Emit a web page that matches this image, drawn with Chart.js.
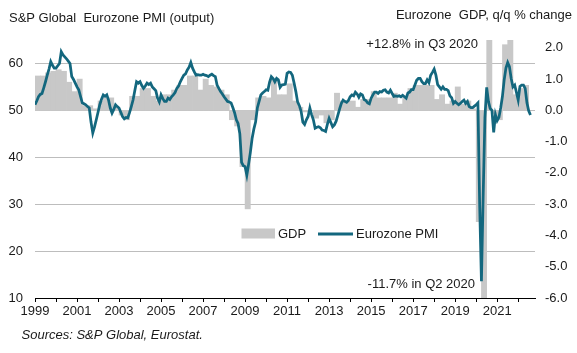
<!DOCTYPE html>
<html>
<head>
<meta charset="utf-8">
<script src="https://cdn.jsdelivr.net/npm/chart.js@4.4.0/dist/chart.umd.min.js"></script>
<style>
  body { margin: 0; background: #fff; }
  #wrap { width: 577px; height: 353px; }
</style>
</head>
<body>
<div id="wrap"><canvas id="chart"></canvas></div>
<script>
// Eurozone PMI output, monthly from Jan 1999
const pmiStartYear = 1999;
const pmiMonthly = [
  51.2, 52.0, 52.9, 53.4, 53.6, 54.8, 56.1, 57.5, 58.8, 60.4, 59.6, 59.0, // 1999
  59.0, 59.5, 60.0, 62.5, 61.8, 61.4, 61.0, 60.5, 60.0, 57.2, 56.6, 55.8, // 2000
  55.0, 54.4, 53.0, 51.6, 51.4, 51.2, 50.8, 50.5, 47.5, 45.2, 46.5, 48.0, // 2001
  49.6, 51.2, 52.4, 53.3, 53.0, 53.3, 52.2, 50.5, 49.4, 50.2, 51.2, 50.8, // 2002
  50.5, 49.6, 48.7, 48.2, 48.5, 48.4, 49.5, 50.8, 52.2, 54.2, 56.1, 55.8, // 2003
  56.1, 55.3, 54.7, 55.2, 55.8, 55.5, 55.8, 55.0, 54.6, 54.2, 52.6, 51.8, // 2004
  53.3, 52.5, 51.9, 51.9, 52.6, 52.3, 52.9, 53.3, 53.8, 54.7, 55.2, 56.1, // 2005
  56.8, 57.5, 57.8, 58.6, 59.2, 60.2, 59.0, 58.2, 57.5, 57.6, 57.5, 57.5, // 2006
  57.7, 57.5, 57.4, 57.2, 57.5, 57.7, 57.4, 57.2, 55.4, 54.7, 54.0, 53.5, // 2007
  52.9, 52.4, 51.9, 51.8, 51.6, 50.6, 49.5, 48.0, 47.2, 45.0, 38.9, 38.2, // 2008
  38.0, 36.2, 38.5, 41.0, 44.0, 46.0, 47.5, 50.5, 51.9, 53.3, 53.7, 54.0, // 2009
  54.4, 54.3, 56.0, 57.2, 56.8, 56.1, 56.8, 56.5, 54.9, 55.4, 55.5, 55.6, // 2010
  57.9, 58.2, 58.1, 57.5, 55.8, 54.0, 51.8, 51.0, 49.8, 47.5, 47.0, 48.0, // 2011
  48.7, 50.5, 49.1, 48.0, 46.2, 46.4, 46.5, 46.3, 45.8, 45.7, 45.5, 47.0, // 2012
  48.3, 47.4, 46.5, 46.9, 47.7, 49.0, 50.3, 51.5, 52.2, 51.9, 51.7, 52.1, // 2013
  52.9, 53.3, 53.1, 53.9, 53.5, 52.8, 53.5, 53.3, 52.3, 52.1, 51.6, 51.4, // 2014
  52.6, 53.3, 53.9, 53.9, 53.6, 54.0, 53.9, 54.3, 54.4, 53.9, 53.7, 54.3, // 2015
  53.6, 53.0, 53.1, 53.0, 53.1, 52.9, 53.2, 52.9, 52.6, 53.7, 53.9, 54.4, // 2016
  54.4, 55.4, 56.4, 56.8, 56.8, 56.1, 55.7, 55.7, 56.5, 55.9, 57.5, 58.1, // 2017
  58.8, 57.5, 55.5, 55.0, 54.5, 55.0, 54.5, 54.5, 54.2, 53.1, 52.7, 51.5, // 2018
  51.9, 51.5, 51.2, 51.5, 51.9, 52.2, 51.5, 51.9, 50.8, 50.6, 50.6, 50.9, // 2019
  51.2, 51.6, 29.7, 13.6, 31.9, 48.5, 54.9, 51.9, 50.4, 50.0, 45.3, 49.1, // 2020
  47.8, 48.5, 50.5, 53.0, 56.5, 59.0, 60.2, 59.3, 56.8, 55.0, 55.4, 53.8, // 2021
  52.2, 55.1, 55.4, 55.4, 54.7, 51.6, 49.9, 49.0                          // 2022
];

// Eurozone GDP q/q %, quarterly from Q1 1999
const gdpQuarterly = [
  1.1, 1.1, 1.2, 1.25,     // 1999
  1.3, 1.25, 0.9, 0.6,     // 2000
  1.0, 0.15, 0.15, 0.05,   // 2001
  0.3, 0.4, 0.4, 0.1,      // 2002
  -0.15, -0.3, 0.45, 0.45, // 2003
  0.7, 0.7, 0.45, 0.3,     // 2004
  0.5, 0.5, 0.65, 0.8,     // 2005
  0.8, 1.1, 1.1, 0.65,     // 2006
  1.0, 0.8, 0.75, 0.65,    // 2007
  0.5, -0.3, -0.5, -1.8,   // 2008
  -3.15, -0.3, 0.4, 0.45,  // 2009
  0.4, 1.0, 0.5, 0.5,      // 2010
  0.85, 0.3, 0.1, -0.05,   // 2011
  0.0, -0.25, -0.15, -0.4, // 2012
  -0.3, 0.55, 0.3, 0.3,    // 2013
  0.3, 0.1, 0.35, 0.35,    // 2014
  0.6, 0.4, 0.4, 0.4,      // 2015
  0.55, 0.2, 0.4, 0.7,     // 2016
  0.8, 0.8, 0.8, 0.8,      // 2017
  0.35, 0.5, 0.2, 0.3,     // 2018
  0.75, 0.2, 0.3, 0.05,    // 2019
  -3.56, -11.7, 12.8, -0.1, // 2020
  -0.3, 2.1, 2.3, 0.5,     // 2021
  0.7, 0.8                 // 2022
];

const yearTicks = [1999, 2000, 2001, 2002, 2003, 2004, 2005, 2006, 2007, 2008, 2009, 2010,
  2011, 2012, 2013, 2014, 2015, 2016, 2017, 2018, 2019, 2020, 2021, 2022];
const labelledYears = [1999, 2001, 2003, 2005, 2007, 2009, 2011, 2013, 2015, 2017, 2019, 2021];
const pmiTicks = [10, 20, 30, 40, 50, 60];
const gdpTicks = [-6, -5, -4, -3, -2, -1, 0, 1, 2];

const textColor = '#1a1a1a';
const fontFamily = '"Liberation Sans", Arial, sans-serif';
Chart.defaults.font.family = fontFamily;
Chart.defaults.font.size = 13;
Chart.defaults.color = textColor;

const pmiPoints = pmiMonthly.map((v, i) => ({ x: pmiStartYear + i / 12, y: v }));
const gdpPoints = gdpQuarterly.map((v, i) => ({ x: pmiStartYear + i / 4 + 0.125, y: v }));

// titles, notes, legend and source line
const textPlugin = {
  id: 'texts',
  afterDraw(chart) {
    const { ctx } = chart;
    const [pmiSet, gdpSet] = chart.data.datasets;
    ctx.save();
    ctx.fillStyle = textColor;
    ctx.textBaseline = 'middle';
    ctx.font = '13px ' + fontFamily;

    ctx.textAlign = 'left';
    ctx.fillText('S&P Global  Eurozone PMI (output)', 9, 18.5);
    ctx.textAlign = 'right';
    ctx.fillText('Eurozone  GDP, q/q % change', 572, 15);
    ctx.fillText('+12.8% in Q3 2020', 478, 44.5);
    ctx.fillText('-11.7% in Q2 2020', 475, 284);

    // legend
    ctx.textAlign = 'left';
    ctx.fillStyle = gdpSet.backgroundColor;
    ctx.fillRect(241.5, 228.5, 33.5, 10);
    ctx.fillStyle = textColor;
    ctx.fillText(gdpSet.label, 278, 234);
    ctx.strokeStyle = pmiSet.borderColor;
    ctx.lineWidth = 3;
    ctx.beginPath();
    ctx.moveTo(318, 234);
    ctx.lineTo(353, 234);
    ctx.stroke();
    ctx.fillText(pmiSet.label, 356, 234);

    ctx.font = 'italic 13px ' + fontFamily;
    ctx.fillText('Sources: S&P Global, Eurostat.', 21.5, 335);
    ctx.restore();
  }
};

new Chart(document.getElementById('chart'), {
  type: 'bar',
  data: {
    datasets: [
      {
        type: 'line',
        label: 'Eurozone PMI',
        data: pmiPoints,
        yAxisID: 'y',
        borderColor: '#13677e',
        borderWidth: 2.75,
        pointRadius: 0,
        tension: 0,
        order: 0
      },
      {
        type: 'bar',
        label: 'GDP',
        data: gdpPoints,
        yAxisID: 'y2',
        backgroundColor: '#c8c8c8',
        barPercentage: 1,
        categoryPercentage: 1,
        order: 1
      }
    ]
  },
  options: {
    responsive: true,
    maintainAspectRatio: false,
    animation: false,
    layout: { padding: { top: 40 } },
    plugins: {
      legend: { display: false },
      tooltip: { enabled: false }
    },
    scales: {
      x: {
        type: 'linear',
        min: 1999,
        max: 2022.8,
        offset: false,
        afterBuildTicks: (s) => { s.ticks = yearTicks.map((v) => ({ value: v })); },
        afterFit: (s) => { s.height = 55; },
        ticks: {
          autoSkip: false,
          maxRotation: 0,
          padding: 2,
          callback: (v) => (labelledYears.includes(v) ? String(v) : '')
        },
        grid: { offset: false, drawOnChartArea: false, drawTicks: true, tickLength: 4, color: '#000' },
        border: { display: true, color: '#000', width: 1 }
      },
      y: {
        position: 'left',
        min: 10,
        max: 65,
        afterBuildTicks: (s) => { s.ticks = pmiTicks.map((v) => ({ value: v })); },
        afterFit: (s) => { s.width = 35; },
        ticks: { padding: 12 },
        grid: {
          drawTicks: false,
          color: (c) => (c.tick && c.tick.value === 10 ? 'rgba(0,0,0,0)' : '#bdbdbd')
        },
        border: { display: false }
      },
      y2: {
        position: 'right',
        min: -6,
        max: 2.25,
        afterBuildTicks: (s) => { s.ticks = gdpTicks.map((v) => ({ value: v })); },
        afterFit: (s) => { s.width = 42; },
        ticks: { padding: 10, callback: (v) => v.toFixed(1) },
        grid: { display: false, drawTicks: false },
        border: { display: false }
      }
    }
  },
  plugins: [textPlugin]
});
</script>
</body>
</html>
